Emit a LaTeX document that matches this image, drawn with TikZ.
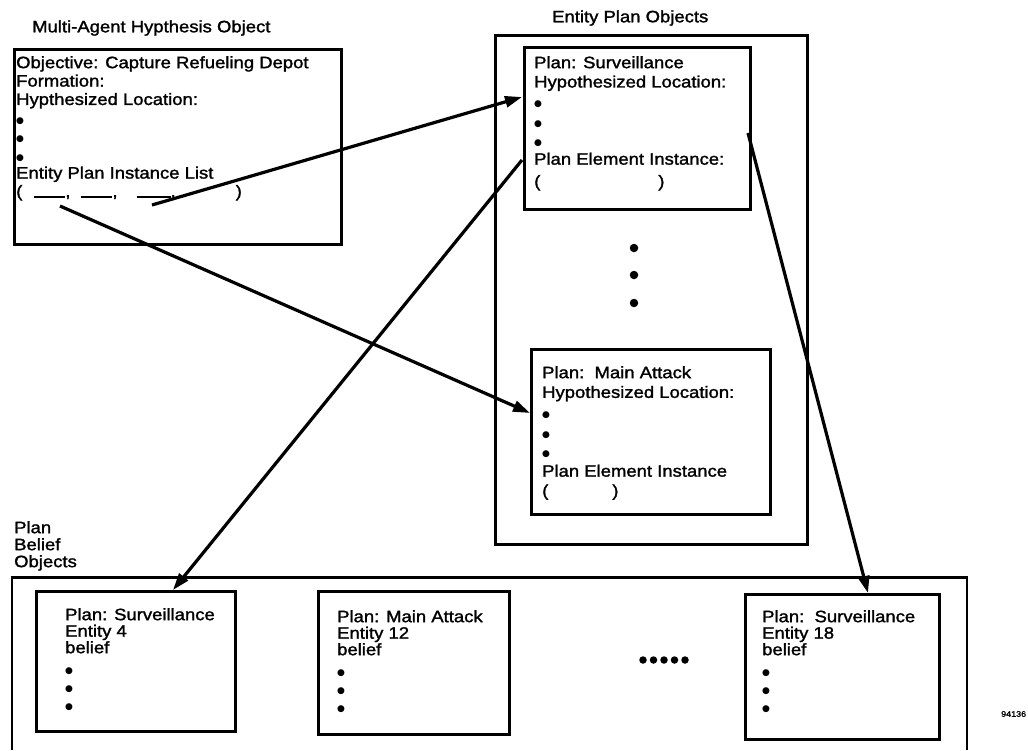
\documentclass[tikz,border=0pt]{standalone}
\usepackage{fontspec}
\setmainfont{Liberation Sans}[FakeStretch=1.12,FakeBold=1.6]
\newfontfamily\dvsans{DejaVu Sans}
\usetikzlibrary{arrows.meta}
\begin{document}
\begin{tikzpicture}[x=1pt,y=-1pt,
  box/.style={draw,line width=2.8pt,inner sep=0pt,anchor=north west},
  txt/.style={anchor=north west,inner sep=0pt,align=left,font=\fontsize{16.5}{18.4}\selectfont},
  lbl/.style={anchor=west,inner sep=0pt,font=\fontsize{16.5}{18}\selectfont},
  arr/.style={line width=3.2pt,-{Triangle[length=17pt,width=11pt]}},
  bigdot/.style={circle,fill,inner sep=0pt,minimum size=8.5pt},
  smalldot/.style={circle,fill,inner sep=0pt,minimum size=7.5pt}]
\useasboundingbox (0,0) rectangle (1028,750);
\newcommand{\blank}[1]{\rule[-1.2pt]{#1}{1.8pt}}
\newcommand{\bul}{{\dvsans\fontsize{9}{9}\selectfont ●}}

% titles
\node[lbl] (t1) at (32,28) {Multi-Agent Hypthesis Object};
\node[lbl] (t2) at (552,18) {Entity Plan Objects};
\node[anchor=north west,inner sep=0pt,align=left,font=\fontsize{16.5}{17}\selectfont] (t3) at (14,521) {Plan\\Belief\\Objects};
\node[anchor=west,inner sep=0pt,font=\fontsize{8}{9}\selectfont] (t4) at (1001,714) {94136};

% multi-agent hypothesis box
\node[box,minimum width=327pt,minimum height=195pt] (mah) at (13,48) {};
\node[txt] (mahtxt) at (16,56) {Objective: Capture Refueling Depot\\Formation:\\Hypthesized Location:\\\bul\\\bul\\\bul\\Entity Plan Instance List\\(\hspace{12pt}\blank{31pt},\hspace{11pt}\blank{31pt},\hspace{19pt}\blank{34pt},\hspace{60pt})};
\coordinate (l1) at (60,206);
\coordinate (l3) at (152,205);

% entity plan objects
\node[box,minimum width=312pt,minimum height=509pt] (epo) at (494,34) {};
\node[box,minimum width=226pt,minimum height=162pt] (surv) at (523,46) {};
\node[txt,font=\fontsize{16.5}{19.3}\selectfont] (survtxt) at (534,56) {Plan: Surveillance\\Hypothesized Location:\\\bul\\\bul\\\bul\\Plan Element Instance:\\[3pt](\hspace{118pt})};
\node[bigdot] (d1) at (634,248) {};
\node[bigdot] (d2) at (634,275) {};
\node[bigdot] (d3) at (634,303) {};
\node[box,minimum width=239pt,minimum height=165pt] (main) at (530,348) {};
\node[txt,font=\fontsize{16.5}{19.7}\selectfont] (maintxt) at (542,366) {Plan:\ \ Main Attack\\Hypothesized Location:\\\bul\\\bul\\\bul\\Plan Element Instance\\(\hspace{64pt})};

% plan belief objects
\draw[line width=2.8pt] (12,750) -- (12,577.5) -- (967,577.5) -- (967,750);
\node[box,minimum width=199pt,minimum height=140pt] (b1) at (35,590) {};
\node[txt,font=\fontsize{16.5}{16.5}\selectfont] (b1txt) at (65,608) {Plan: Surveillance\\Entity 4\\belief\\[4pt]\bul\\[1.5pt]\bul\\[1.5pt]\bul};
\node[box,minimum width=191pt,minimum height=143pt] (b2) at (317,590) {};
\node[txt,font=\fontsize{16.5}{16.5}\selectfont] (b2txt) at (337,610) {Plan: Main Attack\\Entity 12\\belief\\[4pt]\bul\\[1.5pt]\bul\\[1.5pt]\bul};
\node[box,minimum width=194pt,minimum height=145pt] (b3) at (744,593) {};
\node[txt,font=\fontsize{16.5}{16.5}\selectfont] (b3txt) at (762,610) {Plan:\ \ Surveillance\\Entity 18\\belief\\[4pt]\bul\\[1.5pt]\bul\\[1.5pt]\bul};
\foreach \i/\x in {1/643,2/653.5,3/664,4/674.5,5/685}
  \node[smalldot] (e\i) at (\x,660) {};

% connectors
\coordinate (s1) at (522,97);
\coordinate (s2) at (522,160);
\coordinate (s3) at (748,133);
\coordinate (m1) at (530,413);
\coordinate (p1) at (173,590);
\coordinate (p3) at (868,593);
\draw[arr] (l3) -- (s1);
\draw[arr] (l1) -- (m1);
\draw[arr] (s2) -- (p1);
\draw[arr] (s3) -- (p3);
\end{tikzpicture}
\end{document}
